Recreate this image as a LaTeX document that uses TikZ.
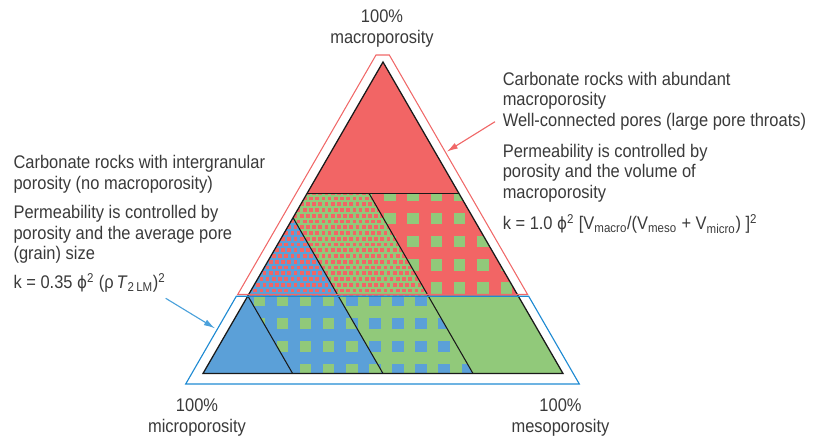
\documentclass[tikz,border=0pt]{standalone}
\usepackage{fontspec}
\setmainfont[FakeStretch=0.9]{Liberation Sans}
\newfontfamily\phifont[FakeStretch=0.9, Scale=0.92]{DejaVu Sans}
\newcommand{\phisym}{{\phifont ϕ}}
\usetikzlibrary{arrows.meta,positioning}

\definecolor{porered}{HTML}{F26565}
\definecolor{poregreen}{HTML}{91C97A}
\definecolor{poreblue}{HTML}{5BA0D8}
\definecolor{lineblue}{HTML}{1E8AD2}
\definecolor{linered}{HTML}{F06868}
\definecolor{txtgray}{HTML}{3A3A3A}

\tikzset{
  lbl/.style={font=\fontsize{13}{14.6}\selectfont, text=txtgray, inner sep=0pt, align=left},
  cornerlbl/.style={lbl, align=center, anchor=north},
  divide/.style={draw=black!90, line width=0.75pt},
  edge/.style={draw=black!90, line width=0.9pt},
  pointer/.style={line width=0.8pt, -{Latex[length=8pt,width=4.5pt]}}
}

\begin{document}
\begin{tikzpicture}[x=0.025cm, y=-0.025cm]
	\useasboundingbox (0,0) rectangle (822,438);

	% Triangle corners and cuts
	\coordinate (A) at (383,62);
	\coordinate (BL) at (203,373.5);
	\coordinate (BR) at (563,373.5);
	\coordinate (L1) at (307.2,193.3);
	\coordinate (R1) at (458.8,193.3);
	\coordinate (L2) at (247.9,296);
	\coordinate (R2) at (518.1,296);
	\coordinate (Lm) at (293.1,217.75);
	\coordinate (M1) at (369,193.3);
	\coordinate (P2) at (338.3,296);
	\coordinate (P3) at (428.3,296);
	\coordinate (Q1) at (292.6,373.5);
	\coordinate (Q2) at (383,373.5);
	\coordinate (Q3) at (473,373.5);

	% Solid fills
	\fill[porered] (A) -- (L1) -- (R1) -- cycle;
	\fill[poreblue] (Lm) -- (P2) -- (L2) -- cycle;
	\fill[poregreen] (L1) -- (M1) -- (P3) -- (P2) -- (Lm) -- cycle;
	\fill[porered] (M1) -- (R1) -- (R2) -- (P3) -- cycle;
	\fill[poreblue] (BL) -- (L2) -- (Q1) -- cycle;
	\fill[poreblue] (L2) -- (P2) -- (Q2) -- (Q1) -- cycle;
	\fill[poregreen] (P2) -- (P3) -- (Q3) -- (Q2) -- cycle;
	\fill[poregreen] (P3) -- (R2) -- (BR) -- (Q3) -- cycle;

	% Fine red dots over upper left part
	\begin{scope}
		\clip (L1) -- (M1) -- (P3) -- (L2) -- cycle;
		\foreach \j in {0,...,18}
			\foreach \i in {0,...,31}
				\fill[porered] ({244+\i*6.2+mod(\j,2)*3.1},{191+\j*5.75}) rectangle ++(3.7,3.7);
	\end{scope}

	% Coarse green squares on red
	\begin{scope}
		\clip (M1) -- (R1) -- (R2) -- (P3) -- cycle;
		\foreach \j in {0,...,4}
			\foreach \i in {0,...,7}
				\fill[poregreen] ({360.7+\i*23.3},{189.3+\j*23.3}) rectangle ++(11.5,11.5);
	\end{scope}

	% Coarse squares in the lower band
	\begin{scope}
		\clip (L2) -- (P2) -- (Q2) -- (Q1) -- cycle;
		\foreach \j in {0,...,3}
			\foreach \i in {0,...,13}
				\fill[poregreen] ({230.5+\i*23.1},{294.3+\j*23.3}) rectangle ++(11.5,11.5);
	\end{scope}
	\begin{scope}
		\clip (P2) -- (P3) -- (Q3) -- (Q2) -- cycle;
		\foreach \j in {0,...,3}
			\foreach \i in {0,...,13}
				\fill[poreblue] ({230.5+\i*23.1},{294.3+\j*23.3}) rectangle ++(11.5,11.5);
	\end{scope}

	% Boundaries
	\draw[divide] (L1) -- (R1);
	\draw[divide] (L2) -- (Q1);
	\draw[divide] (Lm) -- (Q2);
	\draw[divide] (M1) -- (Q3);
	\draw[edge] (A) -- (BL) -- (BR) -- cycle;

	% Outer frames
	\draw[linered, line width=0.75pt] (237.7,294.5) -- (376,55) -- (389.3,55) -- (527.6,294.5) -- cycle;
	\draw[lineblue, line width=0.8pt] (185.7,384) -- (236.3,296.3) -- (528.7,296.3) -- (579.3,384) -- cycle;

	% Corner labels
	\node[cornerlbl] (macrolbl) at (382,9.5) {100\%\\macroporosity};
	\node[cornerlbl] (microlbl) at (197,398.5) {100\%\\microporosity};
	\node[cornerlbl] (mesolbl) at (560.5,398.5) {100\%\\mesoporosity};

	% Left side notes
	\node[lbl, anchor=north west] (intertxt) at (13.3,155.2)
		{Carbonate rocks with intergranular\\porosity (no macroporosity)};
	\node[lbl, anchor=north west] (interperm) at (13.3,205.2)
		{Permeability is controlled by\\porosity and the average pore\\(grain) size};
	\node[lbl, anchor=base west] (interk) at (13.3,288.3)
		{k = 0.35 \phisym\textsuperscript{2} (ρ\,\textit{T}\textsubscript{2\,LM})\textsuperscript{2}};

	% Right side notes
	\node[lbl, anchor=north west] (macrotxt) at (502.5,71.9)
		{Carbonate rocks with abundant\\macroporosity\\Well-connected pores (large pore throats)};
	\node[lbl, anchor=north west] (macroperm) at (502.5,143.6)
		{Permeability is controlled by\\porosity and the volume of\\macroporosity};
	\node[lbl, anchor=base west] (macrok) at (502.5,230)
		{k = 1.0 \phisym\textsuperscript{2} [V\textsubscript{macro}/(V\textsubscript{meso} + V\textsubscript{micro}) ]\textsuperscript{2}};

	% Pointers
	\coordinate (redtail) at (495,121.7);
	\coordinate (redtip) at (446.7,151.7);
	\coordinate (bluetail) at (165.7,298.3);
	\coordinate (bluetip) at (215,328.3);
	\draw[pointer, linered] (redtail) -- (redtip);
	\draw[pointer, lineblue!80] (bluetail) -- (bluetip);
\end{tikzpicture}
\end{document}
